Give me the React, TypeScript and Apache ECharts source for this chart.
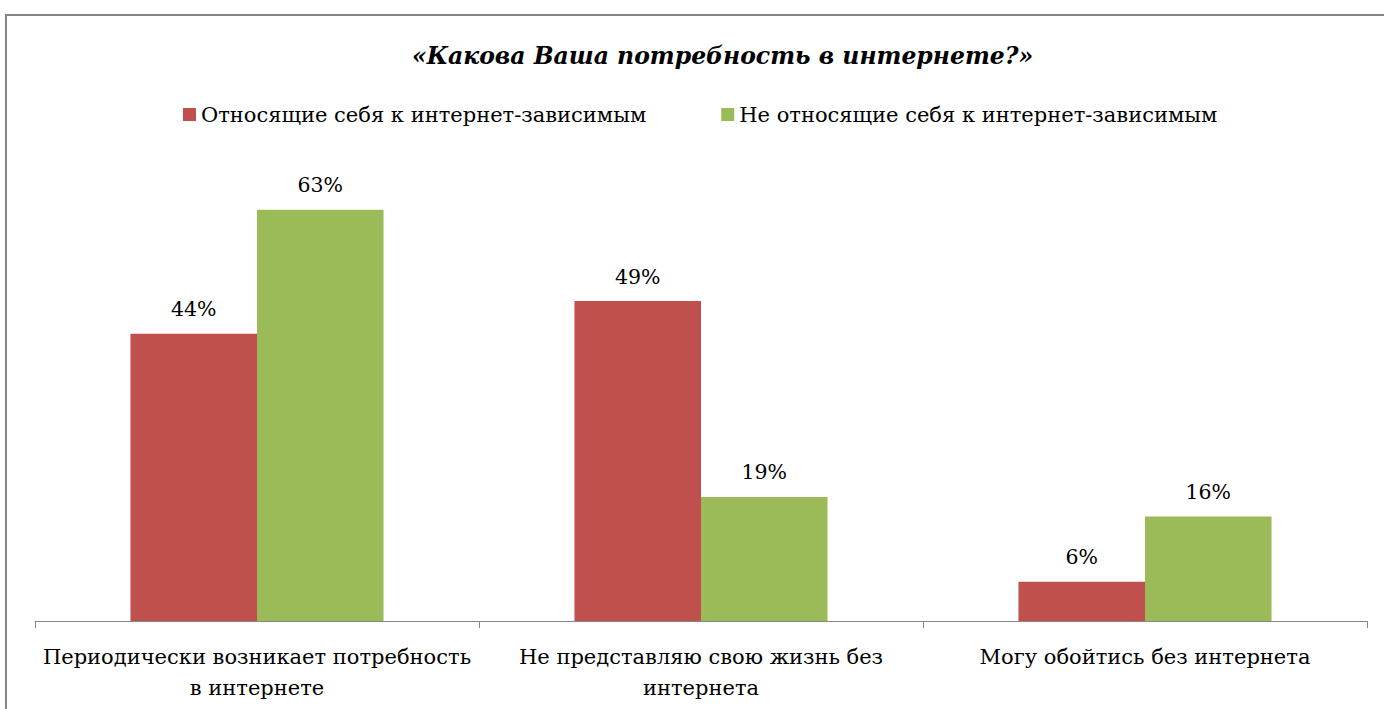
import React, { useEffect, useRef } from "react";
import * as echarts from "echarts";

const categories = [
  "Периодически возникает потребность в интернете",
  "Не представляю свою жизнь без интернета",
  "Могу обойтись без интернета",
];
const seriesNames = [
  "Относящие себя к интернет-зависимым",
  "Не относящие себя к интернет-зависимым",
];
const dependentValues = [44, 49, 6];
const nonDependentValues = [63, 19, 16];
const titleText = "«Какова Ваша потребность в интернете?»";

const FONT = "DejaVu Serif";

function wrapWords(s: string, maxChars: number): string {
  const words = s.split(" ");
  const lines: string[] = [];
  let cur = "";
  for (const w of words) {
    const next = cur ? cur + " " + w : w;
    if (next.length > maxChars && cur) {
      lines.push(cur);
      cur = w;
    } else {
      cur = next;
    }
  }
  if (cur) lines.push(cur);
  return lines.join("\n");
}

export default function App() {
  const ref = useRef<HTMLDivElement>(null);
  useEffect(() => {
    if (!ref.current) return;
    const chart = echarts.init(ref.current, undefined, { renderer: "svg" });
    const label = {
      show: true,
      position: "top",
      distance: 14,
      color: "#000",
      fontFamily: FONT,
      fontSize: 20.5,
      formatter: (p: any) => p.value + "%",
    };
    chart.setOption({
      animation: false,
      backgroundColor: "#fff",
      textStyle: { fontFamily: FONT },
      title: {
        text: titleText,
        left: 412,
        top: 44,
        padding: 0,
        textStyle: {
          fontFamily: FONT,
          fontSize: 23.5,
          fontWeight: "bold",
          fontStyle: "italic",
          color: "#000",
        },
      },
      legend: {
        left: 183,
        top: 104,
        padding: 0,
        itemWidth: 13,
        itemHeight: 13,
        itemGap: 75,
        icon: "rect",
        textStyle: { fontFamily: FONT, fontSize: 21, color: "#000" },
        data: seriesNames,
      },
      grid: {
        left: 35,
        right: 17,
        top: 164,
        bottom: 88,
        containLabel: false,
        outerBoundsMode: "none",
      },
      xAxis: {
        type: "category",
        data: categories,
        axisLine: { lineStyle: { color: "#868686", width: 1 } },
        axisTick: { show: true, length: 7, lineStyle: { color: "#868686" } },
        axisLabel: {
          color: "#000",
          fontFamily: FONT,
          fontSize: 21,
          lineHeight: 31,
          margin: 20,
          interval: 0,
          hideOverlap: false,
          formatter: (v: string) => wrapWords(v, 34),
        },
      },
      yAxis: {
        type: "value",
        min: 0,
        max: 70,
        show: false,
        splitLine: { show: false },
      },
      graphic: [
        {
          type: "rect",
          shape: { x: 6, y: 15, width: 1400, height: 720 },
          style: { fill: "none", stroke: "#868686", lineWidth: 2 },
          silent: true,
        },
      ],
      series: [
        {
          name: seriesNames[0],
          type: "bar",
          data: dependentValues,
          barGap: "0%",
          barCategoryGap: "43%",
          itemStyle: { color: "#C0504D" },
          label,
        },
        {
          name: seriesNames[1],
          type: "bar",
          data: nonDependentValues,
          barGap: "0%",
          barCategoryGap: "43%",
          itemStyle: { color: "#9BBB59" },
          label,
        },
      ],
    });
    return () => chart.dispose();
  }, []);
  return (
    <div
      ref={ref}
      style={{ position: "fixed", left: 0, top: 0, width: 1384, height: 709 }}
    />
  );
}
